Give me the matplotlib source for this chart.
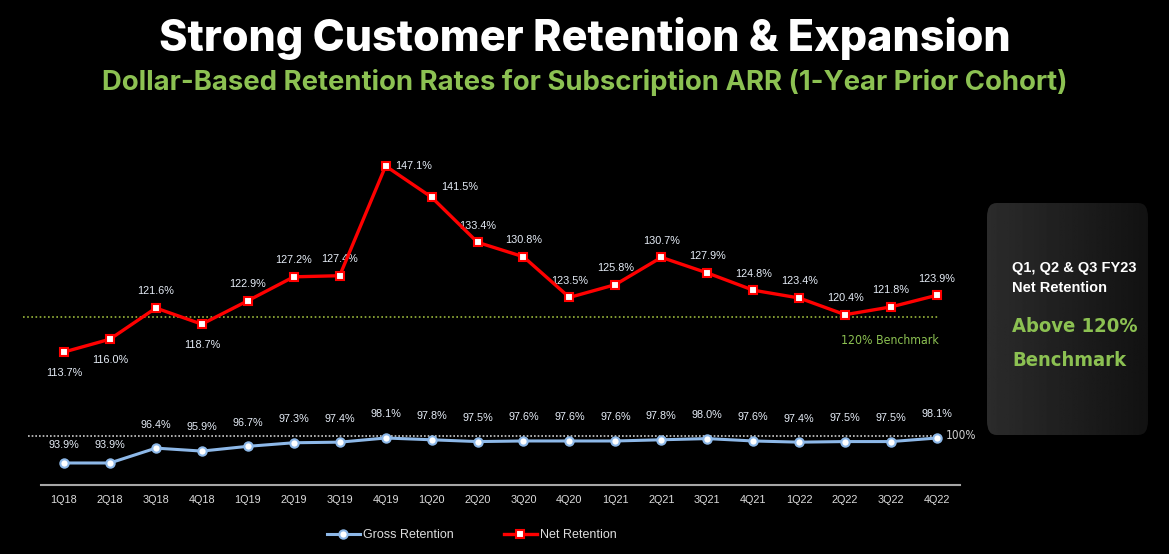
import numpy as np
import matplotlib
matplotlib.use('Agg')
import matplotlib.pyplot as plt
from matplotlib.patches import FancyBboxPatch
from matplotlib.lines import Line2D

quarters = ['1Q18', '2Q18', '3Q18', '4Q18', '1Q19', '2Q19', '3Q19', '4Q19', '1Q20', '2Q20',
            '3Q20', '4Q20', '1Q21', '2Q21', '3Q21', '4Q21', '1Q22', '2Q22', '3Q22', '4Q22']
gross = [93.9, 93.9, 96.4, 95.9, 96.7, 97.3, 97.4, 98.1, 97.8, 97.5,
         97.6, 97.6, 97.6, 97.8, 98.0, 97.6, 97.4, 97.5, 97.5, 98.1]
net = [113.7, 116.0, 121.6, 118.7, 122.9, 127.2, 127.4, 147.1, 141.5, 133.4,
       130.8, 123.5, 125.8, 130.7, 127.9, 124.8, 123.4, 120.4, 121.8, 123.9]
benchmark = 120

W, H = 1169, 554
RED = '#ff0000'
BLUE = '#8db8e8'
GREEN = '#8cc152'
LBL = '#e6edf7'
SANS = ['Liberation Sans', 'DejaVu Sans']
COND = dict(family='DejaVu Sans', fontstretch='condensed')

def fx(px):
    return px / W

def fy(py):
    return 1 - py / H

fig = plt.figure(figsize=(W / 100, H / 100), dpi=100)
fig.patch.set_facecolor('black')

# main axes: net retention
ax = fig.add_axes([fx(41), fy(485), fx(960) - fx(41), fy(140) - fy(485)])
ax.set_facecolor('none')
ax.set_xlim(-0.5, 19.5)
ax.set_ylim(89.82, 151.77)
x = np.arange(len(quarters))

# gross retention on its own scale
ax2 = ax.twinx()
ax2.set_ylim(90.2, 148.19)
ax2.set_facecolor('none')

for a in (ax, ax2):
    for s in ['top', 'right', 'left']:
        a.spines[s].set_visible(False)
    a.set_yticks([])
ax2.spines['bottom'].set_visible(False)
ax.spines['bottom'].set_color('#a6a6a6')
ax.spines['bottom'].set_linewidth(1.5)

ax.set_xticks(x)
ax.set_xticklabels(quarters, fontsize=7.8, color='#dddddd', family=SANS)
ax.tick_params(axis='x', length=0, pad=7)

# benchmark line
ax.plot([-0.89, 19.04], [benchmark, benchmark], color='#9ab83c', lw=1.2,
        linestyle=(0, (1, 1.5)), clip_on=False)
ax.text(19.04, benchmark - 4.3, '120% Benchmark', color=GREEN, fontsize=8.8,
        ha='right', va='center', **COND)

# 100% line
ax2.plot([-0.78, 19.0], [98.45, 98.45], color='#cccccc', lw=1.2,
         linestyle=(0, (1, 1.2)), clip_on=False)
ax2.text(19.2, 98.45, '100%', color='#d0d0d0', fontsize=8.5,
         ha='left', va='center', **COND)

ax.plot(x, net, color=RED, lw=2.4, marker='s', markersize=6.3,
        markerfacecolor='white', markeredgecolor=RED, markeredgewidth=1.5, zorder=5)
ax2.plot(x, gross, color=BLUE, lw=2.2, marker='o', markersize=6,
         markerfacecolor='white', markeredgecolor=BLUE, markeredgewidth=1.5, zorder=5)

# net labels
for i, v in enumerate(net):
    ha = 'center'
    if i in (0, 1, 3):
        off = (0, -15)
    elif i == 7:
        off = (7, 0)
        ha = 'left'
    elif i == 8:
        off = (7, 7)
        ha = 'left'
    else:
        off = (0, 12)
    ax.annotate(f'{v:.1f}%', (i, v), xytext=off, textcoords='offset points',
                ha=ha, va='center', fontsize=7.8, color=LBL, family=SANS)

# gross labels
for i, v in enumerate(gross):
    dy = 13 if i < 2 else 17
    ax2.annotate(f'{v:.1f}%', (i, v), xytext=(0, dy), textcoords='offset points',
                 ha='center', va='center', fontsize=7.8, color=LBL, family=SANS)

# titles
fig.text(0.5, fy(38), 'Strong Customer Retention & Expansion', ha='center', va='center',
         color='white', fontsize=31, fontweight='heavy', family=['Inter', 'DejaVu Sans'])
fig.text(0.5, fy(82), 'Dollar-Based Retention Rates for Subscription ARR (1-Year Prior Cohort)',
         ha='center', va='center', color=GREEN, fontsize=19.8, fontweight='bold',
         family=['Inter', 'DejaVu Sans'])

# side box
bx = fig.add_axes([fx(987), fy(435), fx(1148) - fx(987), fy(203) - fy(435)])
bx.set_axis_off()
grad = np.linspace(0.17, 0.07, 100).reshape(1, -1)
img = bx.imshow(grad, cmap='gray', vmin=0, vmax=1, extent=[0, 1, 0, 1], aspect='auto')
clip = FancyBboxPatch((0, 0), 1, 1, boxstyle='round,pad=0,rounding_size=0.06',
                      transform=bx.transAxes, facecolor='none', edgecolor='none')
bx.add_patch(clip)
img.set_clip_path(clip)
bx.set_xlim(0, 1)
bx.set_ylim(0, 1)

fig.text(fx(1012), fy(268), 'Q1, Q2 & Q3 FY23', color='white', fontsize=10.5,
         fontweight='bold', family=SANS, ha='left', va='center')
fig.text(fx(1012), fy(288), 'Net Retention', color='white', fontsize=10.5,
         fontweight='bold', family=SANS, ha='left', va='center')
fig.text(fx(1012), fy(327), 'Above 120%', color=GREEN, fontsize=14.5,
         fontweight='bold', ha='left', va='center', **COND)
fig.text(fx(1012), fy(361), 'Benchmark', color=GREEN, fontsize=14.5,
         fontweight='bold', ha='left', va='center', **COND)

# legend
h1 = Line2D([], [], color=BLUE, lw=2.2, marker='o', markersize=6,
            markerfacecolor='white', markeredgecolor=BLUE, markeredgewidth=1.5)
h2 = Line2D([], [], color=RED, lw=2.4, marker='s', markersize=6,
            markerfacecolor='white', markeredgecolor=RED, markeredgewidth=1.5)
leg = fig.legend([h1, h2], ['Gross Retention', 'Net Retention'], loc='center',
                 bbox_to_anchor=(fx(472), fy(535)), ncol=2, frameon=False,
                 handlelength=2.6, columnspacing=4.0, handletextpad=0.3,
                 prop={'family': SANS, 'size': 9})
for t in leg.get_texts():
    t.set_color('#dddddd')

fig.savefig('out.png', dpi=100, facecolor='black')
